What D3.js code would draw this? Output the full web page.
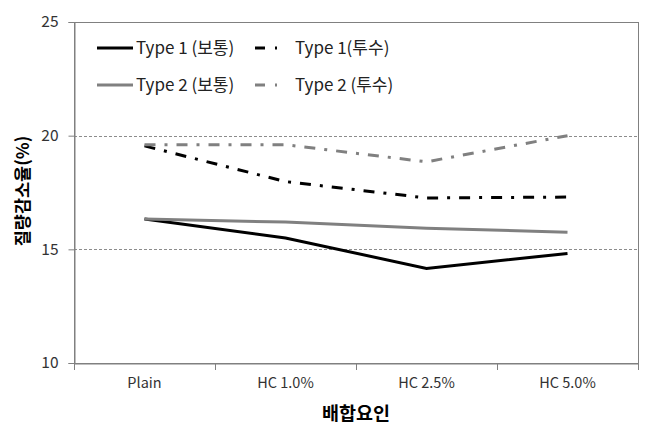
<!DOCTYPE html>
<html>
<head>
<meta charset="utf-8">
<script src="https://cdn.jsdelivr.net/npm/d3@7"></script>
<style>
  body { margin: 0; background: #fff; }
  text { font-family: "Noto Sans CJK KR", "Noto Sans", sans-serif; }
</style>
</head>
<body>
<script>
// Chart data
const categories = ['Plain', 'HC 1.0%', 'HC 2.5%', 'HC 5.0%'];
const type1Normal = [16.33, 15.5, 14.16, 14.82];
const type1Perm = [19.55, 17.98, 17.26, 17.3];
const type2Normal = [16.33, 16.2, 15.93, 15.75];
const type2Perm = [19.6, 19.6, 18.85, 20.0];
const yTicks = [10, 15, 20, 25];

const series = [
  { name: 'Type 1 (보통)', values: type1Normal, color: '#000', dash: null },
  { name: 'Type 1(투수)', values: type1Perm, color: '#000', dash: '11,9,3,9' },
  { name: 'Type 2 (보통)', values: type2Normal, color: '#808080', dash: null },
  { name: 'Type 2 (투수)', values: type2Perm, color: '#808080', dash: '11,9,3,9' }
];

const width = 660, height = 437;
const margin = { top: 22, right: 22, bottom: 74, left: 74 };

const svg = d3.select('body').append('svg')
  .attr('width', width)
  .attr('height', height);

const x = d3.scaleBand()
  .domain(categories)
  .range([margin.left, width - margin.right]);

const y = d3.scaleLinear()
  .domain([10, 25])
  .range([height - margin.bottom, margin.top]);

// Grid lines (dashed)
svg.append('g')
  .selectAll('line')
  .data(yTicks.filter(d => d > 10 && d < 25))
  .join('line')
  .attr('x1', margin.left).attr('x2', width - margin.right)
  .attr('y1', d => Math.round(y(d)) + 0.5).attr('y2', d => Math.round(y(d)) + 0.5)
  .attr('stroke', '#8c8c8c')
  .attr('stroke-dasharray', '3,2');

// Plot border
svg.append('rect')
  .attr('x', margin.left + 0.5).attr('y', margin.top + 0.5)
  .attr('width', width - margin.left - margin.right)
  .attr('height', height - margin.top - margin.bottom)
  .attr('fill', 'none')
  .attr('stroke', '#808080');

// Y axis
const yAxis = svg.append('g')
  .attr('transform', `translate(${margin.left + 0.5},0)`)
  .call(d3.axisLeft(y).tickValues(yTicks).tickSize(6).tickPadding(10));
yAxis.select('.domain').attr('stroke', '#808080');
yAxis.selectAll('.tick line').attr('stroke', '#808080');
yAxis.selectAll('.tick text')
  .attr('font-size', 15.5).attr('fill', '#333');

// X axis with ticks at band edges
const xAxis = svg.append('g')
  .attr('transform', `translate(0,${height - margin.bottom + 0.5})`)
  .call(d3.axisBottom(x).tickSize(0).tickPadding(14));
xAxis.select('.domain').attr('stroke', '#808080');
xAxis.selectAll('.tick text')
  .attr('font-size', 14.5).attr('fill', '#333');

const edges = categories.map(c => x(c)).concat([x(categories[categories.length - 1]) + x.bandwidth()]);
svg.append('g')
  .selectAll('line')
  .data(edges)
  .join('line')
  .attr('x1', d => Math.round(d) + 0.5).attr('x2', d => Math.round(d) + 0.5)
  .attr('y1', height - margin.bottom).attr('y2', height - margin.bottom + 7)
  .attr('stroke', '#808080');

// Lines
const line = d3.line()
  .x((d, i) => x(categories[i]) + x.bandwidth() / 2)
  .y(d => y(d));

svg.append('g')
  .selectAll('path')
  .data(series)
  .join('path')
  .attr('d', d => line(d.values))
  .attr('fill', 'none')
  .attr('stroke', d => d.color)
  .attr('stroke-width', 3)
  .attr('stroke-dasharray', d => d.dash);

// Legend
const legendPos = [
  { lx: 97, tx: 136, ly: 48 },
  { lx: 255, tx: 295, ly: 48 },
  { lx: 97, tx: 136, ly: 85 },
  { lx: 255, tx: 295, ly: 85 }
];
const legend = svg.append('g')
  .selectAll('g')
  .data(series)
  .join('g');

legend.append('line')
  .attr('x1', (d, i) => legendPos[i].lx)
  .attr('x2', (d, i) => legendPos[i].lx + (d.dash ? 24 : 36))
  .attr('y1', (d, i) => legendPos[i].ly)
  .attr('y2', (d, i) => legendPos[i].ly)
  .attr('stroke', d => d.color)
  .attr('stroke-width', 3)
  .attr('stroke-dasharray', d => d.dash ? '10,10,2,10' : null);

legend.append('text')
  .attr('x', (d, i) => legendPos[i].tx)
  .attr('y', (d, i) => legendPos[i].ly)
  .attr('dy', '0.35em')
  .attr('font-size', 17)
  .attr('fill', '#222')
  .text(d => d.name);

// Axis titles
svg.append('text')
  .attr('x', (margin.left + width - margin.right) / 2)
  .attr('y', 420)
  .attr('text-anchor', 'middle')
  .attr('font-size', 18.5)
  .attr('font-weight', 'bold')
  .text('배합요인');

svg.append('text')
  .attr('transform', `translate(23,191) rotate(-90)`)
  .attr('text-anchor', 'middle')
  .attr('dy', '0.35em')
  .attr('font-size', 17.5)
  .attr('font-weight', 'bold')
  .text('질량감소율(%)');
</script>
</body>
</html>
